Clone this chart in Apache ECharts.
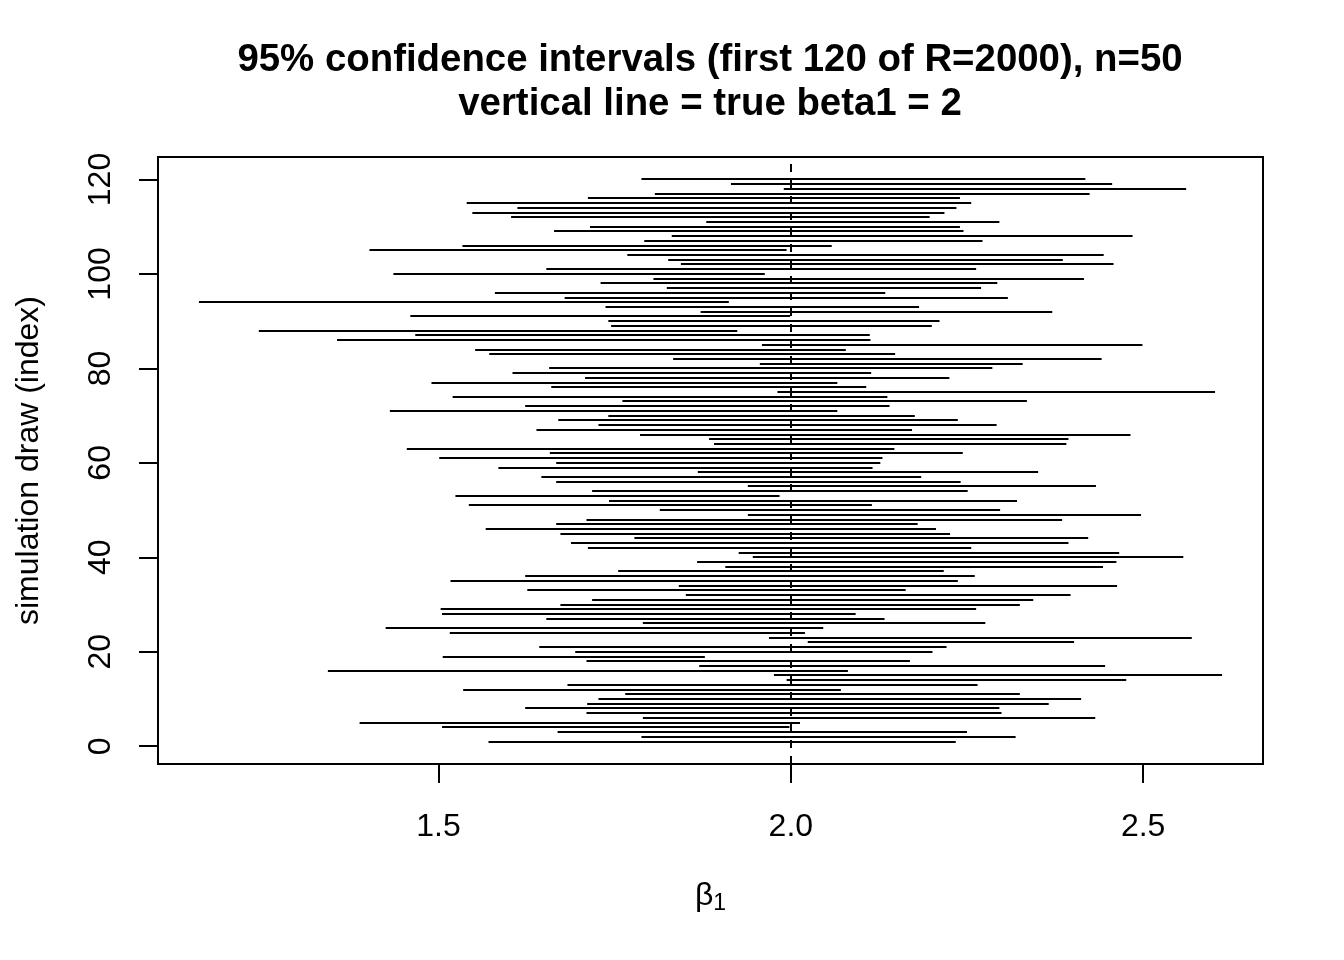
<!DOCTYPE html>
<html>
<head>
<meta charset="utf-8">
<script src="https://cdn.jsdelivr.net/npm/echarts@6/dist/echarts.min.js"></script>
<style>
html,body{margin:0;padding:0;background:#fff;}
#chart{width:1344px;height:960px;}
</style>
</head>
<body>
<div id="chart"></div>
<script>
// simulation draw index 1..120
const drawIndex = Array.from({length: 120}, (_, i) => i + 1);
// lower bounds of 95% CI (index 1..120)
const lower = [
1.571,1.788,1.669,1.505,1.388,1.790,1.710,1.623,1.711,1.727,
1.765,1.535,1.683,1.994,1.976,1.343,1.870,1.710,1.506,1.694,
1.643,2.024,1.969,1.516,1.425,1.790,1.653,1.505,1.503,1.673,
1.718,1.851,1.626,1.841,1.517,1.623,1.755,1.907,1.867,1.946,
1.926,1.712,1.688,1.778,1.673,1.567,1.667,1.710,1.939,1.814,
1.543,1.742,1.524,1.718,1.939,1.667,1.646,1.868,1.585,1.667,
1.501,1.658,1.455,1.891,1.884,1.786,1.639,1.727,1.670,1.741,
1.431,1.623,1.761,1.520,1.981,1.660,1.490,1.708,1.605,1.657,
1.956,1.833,1.572,1.552,1.959,1.356,1.467,1.245,1.745,1.741,
1.460,1.872,1.737,1.160,1.679,1.580,1.824,1.730,1.805,1.436,
1.653,1.844,1.826,1.768,1.402,1.534,1.792,1.831,1.664,1.715,
1.880,1.603,1.548,1.612,1.540,1.712,1.807,1.990,1.915,1.788
];
// upper bounds of 95% CI (index 1..120)
const upper = [
2.234,2.319,2.250,1.998,2.013,2.432,2.299,2.296,2.366,2.412,
2.325,2.071,2.265,2.476,2.612,2.081,2.446,2.169,1.878,2.201,
2.221,2.402,2.569,2.020,2.046,2.276,2.133,2.092,2.263,2.325,
2.344,2.397,2.163,2.463,2.237,2.261,2.217,2.443,2.462,2.557,
2.466,2.256,2.394,2.422,2.226,2.206,2.180,2.385,2.497,2.297,
2.115,2.321,1.984,2.251,2.433,2.241,2.185,2.351,2.116,2.127,
2.130,2.244,2.147,2.391,2.394,2.482,2.172,2.292,2.237,2.176,
2.066,2.140,2.335,2.137,2.602,2.107,2.066,2.225,2.114,2.286,
2.329,2.441,2.148,2.078,2.499,2.113,2.112,1.924,2.200,2.211,
1.999,2.371,2.182,1.912,2.308,2.134,2.270,2.293,2.416,1.963,
2.263,2.458,2.386,2.444,1.994,2.058,2.272,2.485,2.245,2.240,
2.296,2.197,2.218,2.235,2.256,2.240,2.424,2.561,2.456,2.418
];
const trueBeta = 2;
const xTicks = [1.5, 2.0, 2.5];
const yTicks = [0, 20, 40, 60, 80, 100, 120];

// R-style 4% padding of data range
const xAll = lower.concat(upper);
const xLo = Math.min(...xAll), xHi = Math.max(...xAll);
const xPad = (xHi - xLo) * 0.04;
const yFirst = drawIndex[0], yLast = drawIndex[drawIndex.length - 1];
const yPad = (yLast - yFirst) * 0.04;

const data = drawIndex.map((d, i) => [d, lower[i], upper[i]]);
const FONT = '"Liberation Sans", Arial, Helvetica, sans-serif';

const chart = echarts.init(document.getElementById('chart'), null, {renderer: 'canvas'});
chart.setOption({
  backgroundColor: '#fff',
  animation: false,
  title: {
    text: '95% confidence intervals (first 120 of R=2000), n=50\nvertical line = true beta1 = 2',
    left: 705,
    top: 33,
    textAlign: 'center',
    textStyle: {fontFamily: FONT, fontSize: 38.4, fontWeight: 'bold', color: '#000', lineHeight: 44}
  },
  grid: {
    left: 158, right: 81, top: 157, bottom: 196,
    show: true, borderColor: '#000', borderWidth: 2,
    outerBoundsMode: 'none'
  },
  xAxis: {
    type: 'value',
    min: xLo - xPad,
    max: xHi + xPad,
    splitLine: {show: false},
    axisLine: {show: false, onZero: false},
    axisTick: {show: true, customValues: xTicks, length: 19, lineStyle: {color: '#000', width: 2}},
    axisLabel: {
      customValues: xTicks,
      formatter: v => v.toFixed(1),
      margin: 47,
      fontFamily: FONT, fontSize: 32, color: '#000'
    },
    name: '{b|β}{s|1}',
    nameLocation: 'middle',
    nameGap: 114,
    nameTextStyle: {
      fontFamily: FONT, fontSize: 32, color: '#000',
      rich: {
        b: {fontFamily: FONT, fontSize: 32, color: '#000'},
        s: {fontFamily: FONT, fontSize: 23, color: '#000', padding: [14, 0, 0, 0]}
      }
    }
  },
  yAxis: {
    type: 'value',
    min: yFirst - yPad,
    max: yLast + yPad,
    splitLine: {show: false},
    axisLine: {show: false, onZero: false},
    axisTick: {show: true, customValues: yTicks, length: 19, lineStyle: {color: '#000', width: 2}},
    axisLabel: {
      customValues: yTicks,
      rotate: 90,
      margin: 41,
      fontFamily: FONT, fontSize: 32, color: '#000'
    },
    name: 'simulation draw (index)',
    nameLocation: 'middle',
    nameGap: 113,
    nameTextStyle: {fontFamily: FONT, fontSize: 32, color: '#000'}
  },
  series: [{
    type: 'custom',
    data: data,
    encode: {x: [1, 2], y: 0},
    renderItem: function (params, api) {
      const y = api.value(0), lo = api.value(1), hi = api.value(2);
      const p1 = api.coord([lo, y]);
      const p2 = api.coord([hi, y]);
      const py = Math.round(p1[1]);
      return {
        type: 'line',
        shape: {x1: p1[0], y1: py, x2: p2[0], y2: py},
        style: {stroke: '#000', lineWidth: 2}
      };
    },
    markLine: {
      silent: true,
      symbol: ['none', 'none'],
      label: {show: false},
      lineStyle: {color: '#000', width: 2, type: [8, 8]},
      data: [{xAxis: trueBeta}]
    }
  }]
});
</script>
</body>
</html>
